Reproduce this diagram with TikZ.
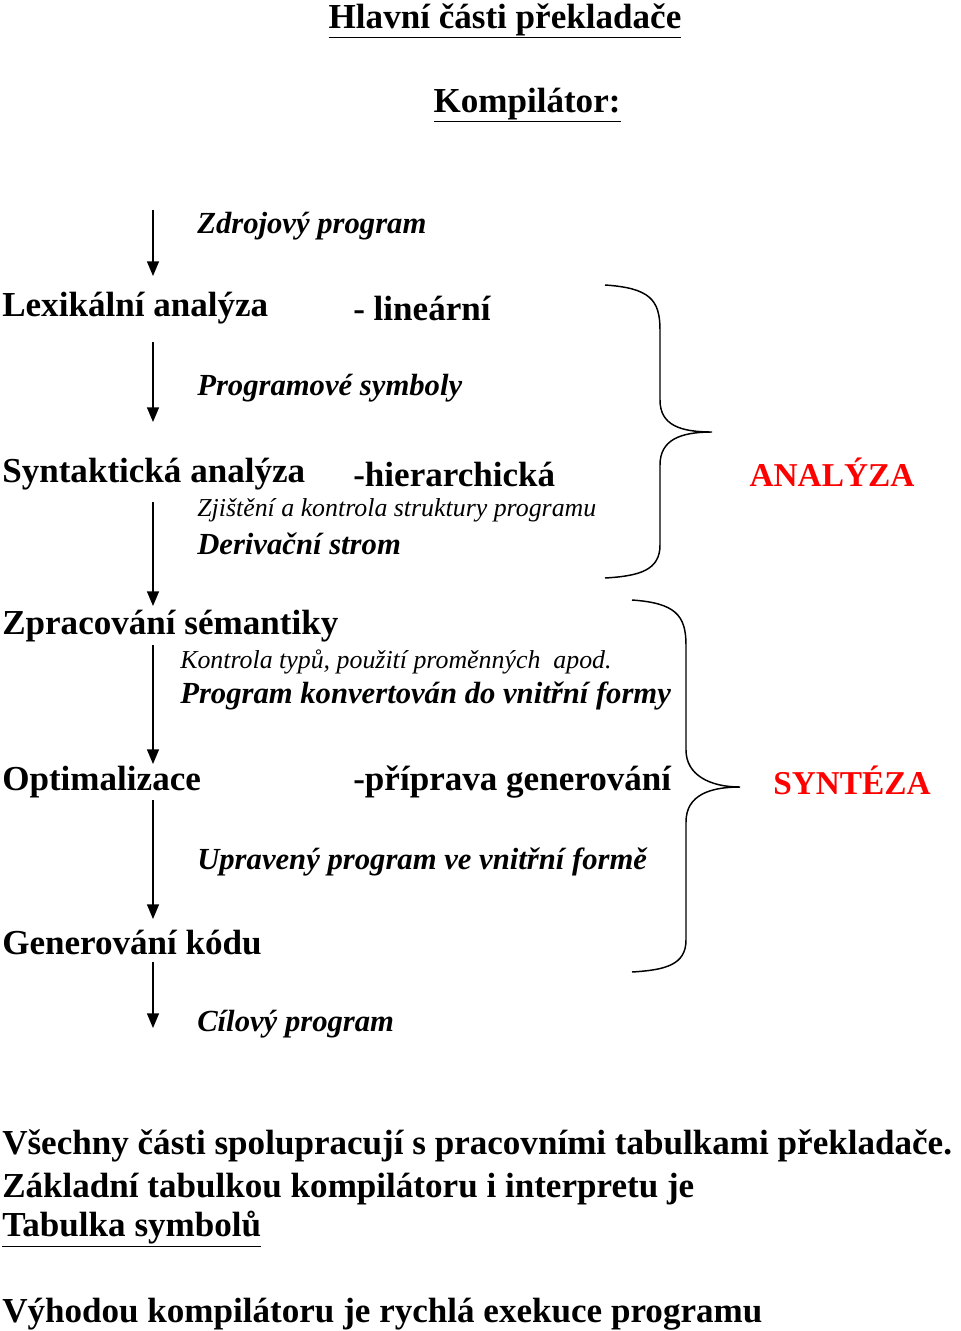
\documentclass[tikz,border=0pt]{standalone}
\usepackage{fontspec}
\setmainfont{Liberation Serif}
\usetikzlibrary{arrows.meta}
\begin{document}
\begin{tikzpicture}[x=0.75pt,y=-0.75pt,
    main/.style={anchor=west,inner sep=0pt,font=\fontsize{26.3}{30}\selectfont\bfseries},
    sub/.style={anchor=west,inner sep=0pt,font=\fontsize{23}{27}\selectfont\bfseries\itshape},
    note/.style={anchor=west,inner sep=0pt,font=\fontsize{19.4}{23}\selectfont\itshape},
    part/.style={anchor=center,inner sep=0pt,text=red,font=\fontsize{25}{30}\selectfont\bfseries},
    arr/.style={-{Triangle[length=11pt,width=9pt]},line width=1pt},
    brc/.style={line width=1.1pt}
  ]
  \useasboundingbox (0,0) rectangle (960,1331);

  \node[main,anchor=center] (title) at (505,21) {\underline{Hlavní části překladače}};
  \node[main,anchor=center] (komp) at (527,105) {\underline{Kompilátor:}};

  \node[sub] (zdroj) at (197,226) {Zdrojový program};
  \node[main] (lex) at (2,308) {Lexikální analýza};
  \node[main] (lin) at (353,308) {- lineární};
  \node[sub] (psym) at (197,388) {Programové symboly};
  \node[main] (syn) at (2,474) {Syntaktická analýza};
  \node[main] (hier) at (353,474) {-hierarchická};
  \node[note] (zjist) at (197,510) {Zjištění a kontrola struktury programu};
  \node[sub] (deriv) at (197,544) {Derivační strom};
  \node[main] (sem) at (2,626) {Zpracování sémantiky};
  \node[note] (kontr) at (180,662) {Kontrola typů, použití proměnných\ \ apod.};
  \node[sub] (konv) at (180,696) {Program konvertován do vnitřní formy};
  \node[main] (opt) at (2,782) {Optimalizace};
  \node[main] (prip) at (353,782) {-příprava generování};
  \node[sub] (uprav) at (197,862) {Upravený program ve vnitřní formě};
  \node[main] (gen) at (2,943) {Generování kódu};
  \node[sub] (cil) at (197,1024) {Cílový program};

  \node[part] (anal) at (832,472) {ANALÝZA};
  \node[part] (synt) at (852,780) {SYNTÉZA};

  % arrows down the left side
  \coordinate (a1) at (153,210); \coordinate (b1) at (153,276);
  \coordinate (a2) at (153,342); \coordinate (b2) at (153,422);
  \coordinate (a3) at (153,502); \coordinate (b3) at (153,606);
  \coordinate (a4) at (153,645); \coordinate (b4) at (153,764);
  \coordinate (a5) at (153,800); \coordinate (b5) at (153,919);
  \coordinate (a6) at (153,962); \coordinate (b6) at (153,1028);
  \foreach \i in {1,...,6}
    \draw[arr] (a\i) -- (b\i);

  % braces
  \coordinate (t1) at (712,432);
  \draw[brc] (605,285) .. controls (650,288) and (660,300) .. (660,330)
    -- (660,400) .. controls (660,425) and (680,432) .. (t1)
    .. controls (680,432) and (660,440) .. (660,465)
    -- (660,545) .. controls (660,570) and (640,576) .. (605,578);
  \coordinate (t2) at (740,787);
  \draw[brc] (632,600) .. controls (675,603) and (686,615) .. (686,645)
    -- (686,750) .. controls (686,775) and (710,787) .. (t2)
    .. controls (710,787) and (686,795) .. (686,822)
    -- (686,940) .. controls (686,965) and (665,970) .. (632,972);

  \node[main] (vse) at (2,1146) {Všechny části spolupracují s pracovními tabulkami překladače.};
  \node[main] (zakl) at (2,1189) {Základní tabulkou kompilátoru i interpretu je};
  \node[main] (tab) at (2,1229) {\underline{Tabulka symbolů}};
  \node[main] (vyh) at (2,1314) {Výhodou kompilátoru je rychlá exekuce programu};
\end{tikzpicture}
\end{document}
